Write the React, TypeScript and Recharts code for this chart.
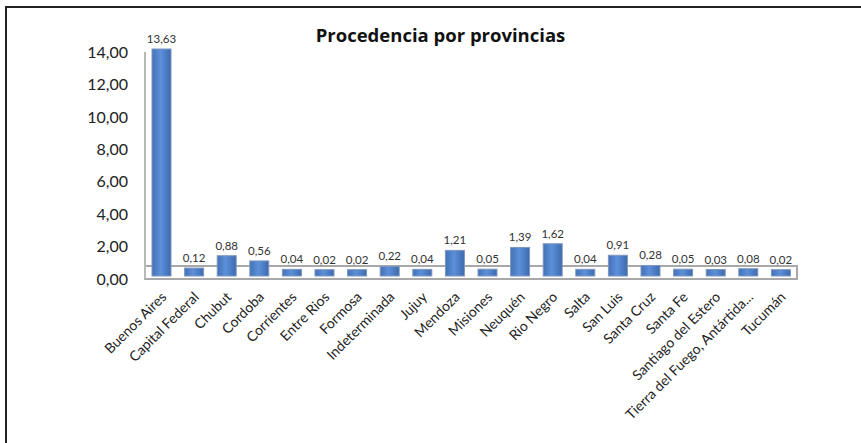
import React from 'react';
import { BarChart, Bar, XAxis, YAxis, LabelList, ReferenceArea } from 'recharts';

const provincias = [
  'Buenos Aires', 'Capital Federal', 'Chubut', 'Cordoba', 'Corrientes', 'Entre Rios',
  'Formosa', 'Indeterminada', 'Jujuy', 'Mendoza', 'Misiones', 'Neuquén', 'Rio Negro',
  'Salta', 'San Luis', 'Santa Cruz', 'Santa Fe', 'Santiago del Estero',
  'Tierra del Fuego, Antártida...', 'Tucumán',
];
const porcentajes = [
  13.63, 0.12, 0.88, 0.56, 0.04, 0.02, 0.02, 0.22, 0.04, 1.21,
  0.05, 1.39, 1.62, 0.04, 0.91, 0.28, 0.05, 0.03, 0.08, 0.02,
];
const yTicks = [0, 2, 4, 6, 8, 10, 12, 14];

const data = provincias.map((name, i) => ({ name, value: porcentajes[i] }));

const fmt = (v: number) => v.toFixed(2).replace('.', ',');
const FONT = 'Lato, "Open Sans", sans-serif';

// fake 3d column: lift the front face a bit above the floor
const Column3D = (props: any) => {
  const { x, y, width, height } = props;
  const top = y - 9;
  const bottom = y + height - 3;
  return (
    <rect x={x} y={top} width={width} height={Math.max(bottom - top, 1)}
      fill="url(#colGrad)" stroke="#7f97bd" strokeWidth={1} />
  );
};

const RotTick = (props: any) => {
  const { x, y, payload } = props;
  return (
    <text x={x + 2} y={y + 7} transform={`rotate(-45, ${x + 2}, ${y + 7})`}
      textAnchor="end" dominantBaseline="central" fontSize={14} fill="#222" fontFamily={FONT}>
      {payload.value}
    </text>
  );
};

const App: React.FC = () => {
  return (
    <div style={{ position: 'absolute', left: 0, top: 0, width: 861, height: 443, background: '#fff' }}>
      <div style={{ position: 'absolute', left: 5, top: 6, width: 856, height: 437,
        borderTop: '2px solid #222', borderLeft: '2px solid #222' }} />
      <div style={{ position: 'absolute', left: 0, top: 22, width: 881, textAlign: 'center',
        fontFamily: '"Open Sans", sans-serif', fontWeight: 700, fontSize: 18.5, color: '#111' }}>
        Procedencia por provincias
      </div>
      <div style={{ position: 'absolute', left: 0, top: 0 }}>
        <BarChart width={861} height={443} data={data}
          margin={{ top: 52, right: 64, bottom: 0, left: 0 }} barSize={19}>
          <defs>
            <linearGradient id="colGrad" x1="0" y1="0" x2="1" y2="0">
              <stop offset="0%" stopColor="#4271b5" />
              <stop offset="45%" stopColor="#5c90da" />
              <stop offset="100%" stopColor="#3d6aae" />
            </linearGradient>
          </defs>
          <ReferenceArea y1={0} y2={0.8} fill="none" stroke="#a8a8a8" strokeWidth={2} ifOverflow="visible" />
          <XAxis dataKey="name" interval={0} height={164} axisLine={false} tickLine={false}
            tick={<RotTick />} />
          <YAxis domain={[0, 14]} ticks={yTicks} width={145} tickSize={0} tickMargin={17}
            axisLine={{ stroke: '#b8b8b8', strokeWidth: 2 }} tickLine={false}
            tickFormatter={fmt}
            tick={{ fontSize: 16, fill: '#222', fontFamily: FONT }} />
          <Bar dataKey="value" shape={<Column3D />} isAnimationActive={false}>
            <LabelList dataKey="value" position="top" offset={15} formatter={(v: any) => fmt(Number(v))}
              style={{ fontSize: 11.5, fill: '#333', fontFamily: FONT }} />
          </Bar>
        </BarChart>
      </div>
    </div>
  );
};

export default App;
